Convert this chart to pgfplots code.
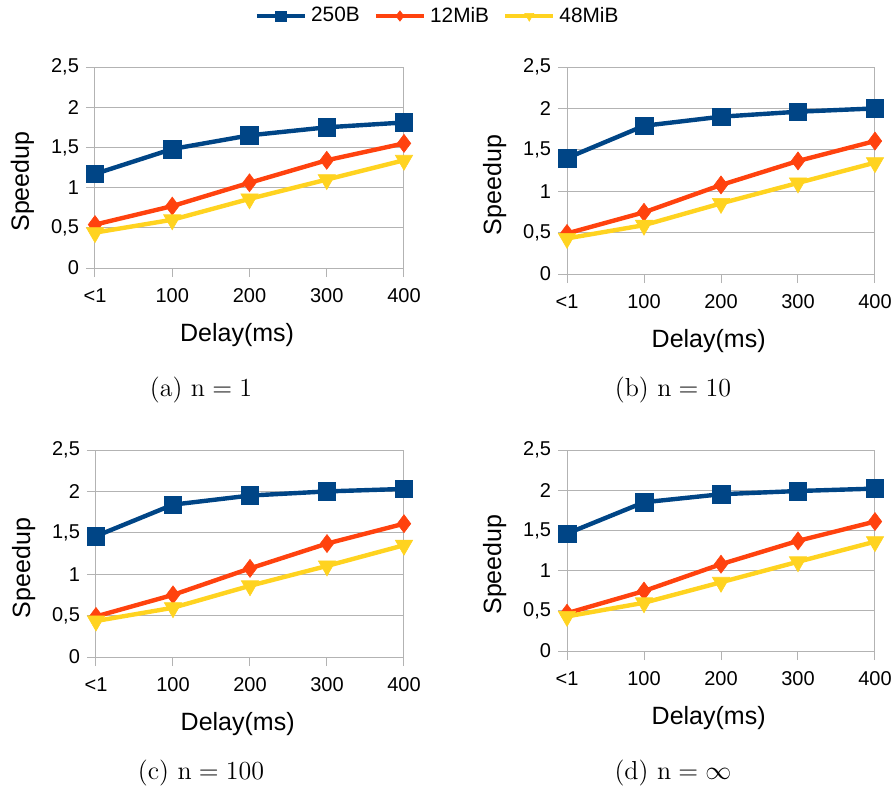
\documentclass[border=0pt]{standalone}
\usepackage{fix-cm}
\usepackage{fontspec}
\usepackage{pgfplots}
\pgfplotsset{compat=1.18}
\newfontfamily\lsans{Liberation Sans}
\definecolor{c1}{HTML}{004586}
\definecolor{c2}{HTML}{FF420E}
\definecolor{c3}{HTML}{FFD320}
\definecolor{gridgray}{HTML}{B3B3B3}
\pgfplotsset{
  myaxis/.style={
    scale only axis,
    xmin=0, xmax=4, ymin=0, ymax=2.5,
    xtick={0,1,2,3,4}, xticklabels={<1,100,200,300,400},
    ytick={0,0.5,1,1.5,2,2.5}, yticklabels={0,{0,5},1,{1,5},2,{2,5}},
    tick align=outside, tick pos=left, major tick length=4.5pt,
    axis line style={draw=gridgray, line width=0.5pt},
    tick style={draw=gridgray, line width=0.5pt},
    ymajorgrids, grid style={draw=gridgray, line width=0.5pt},
    ticklabel style={font=\lsans\fontsize{10}{12}\selectfont},
    xticklabel style={yshift=-2.2pt},
    label style={font=\lsans\fontsize{12.5}{15}\selectfont},
    xlabel={Delay(ms)}, ylabel={Speedup},
    xlabel style={at={(axis description cs:0.46,0)}, anchor=base, yshift=-36.5pt},
    ylabel style={at={(axis description cs:-0.214,0.43)}, anchor=base},
    clip=false,
  },
  s1/.style={color=c1, line width=2.2pt, mark=square*, mark size=4.4pt, mark options={line width=0.3pt}},
  s2/.style={color=c2, line width=2.2pt, mark=diamond*, mark size=4.5pt, mark options={line width=0.3pt}},
  s3/.style={color=c3, line width=2.2pt, mark=triangle*, mark size=5pt, mark options={line width=0.3pt, rotate=180}},
}
\begin{document}
\begin{tikzpicture}
\useasboundingbox (0pt,0pt) rectangle (448pt,-393.5pt);
% (a)
\begin{axis}[myaxis, at={(47.5pt,-134pt)}, anchor=south west, width=154.5pt, height=100.5pt,
  legend columns=3,
  legend style={at={(axis description cs:1.112,1.2537)}, anchor=center, draw=none, fill=none,
    font=\lsans\fontsize{10.4}{12}\selectfont,
    /tikz/every even column/.append style={column sep=5pt}},
  legend image code/.code={\draw[#1, mark repeat=2, mark phase=2] plot coordinates {(0pt,0pt) (12pt,0pt) (24pt,0pt)};},
  legend image post style={mark size=2.6pt}]
\addplot[s1] coordinates {(0,1.17) (1,1.48) (2,1.65) (3,1.75) (4,1.81)};
\addplot[s2] coordinates {(0,0.54) (1,0.77) (2,1.06) (3,1.34) (4,1.55)};
\addplot[s3] coordinates {(0,0.44) (1,0.60) (2,0.86) (3,1.10) (4,1.34)};
\legend{250B,12MiB,48MiB}
\end{axis}
% (b)
\begin{axis}[myaxis, at={(283.5pt,-137pt)}, anchor=south west, width=154pt, height=103.5pt]
\addplot[s1] coordinates {(0,1.40) (1,1.79) (2,1.90) (3,1.96) (4,2.00)};
\addplot[s2] coordinates {(0,0.49) (1,0.745) (2,1.075) (3,1.365) (4,1.606)};
\addplot[s3] coordinates {(0,0.43) (1,0.59) (2,0.853) (3,1.10) (4,1.345)};
\end{axis}
% (c)
\begin{axis}[myaxis, at={(48pt,-328.5pt)}, anchor=south west, width=154pt, height=103.5pt]
\addplot[s1] coordinates {(0,1.46) (1,1.84) (2,1.95) (3,2.00) (4,2.03)};
\addplot[s2] coordinates {(0,0.49) (1,0.75) (2,1.07) (3,1.37) (4,1.61)};
\addplot[s3] coordinates {(0,0.435) (1,0.595) (2,0.86) (3,1.10) (4,1.35)};
\end{axis}
% (d)
\begin{axis}[myaxis, at={(283.5pt,-325.5pt)}, anchor=south west, width=154pt, height=100.5pt]
\addplot[s1] coordinates {(0,1.46) (1,1.85) (2,1.95) (3,1.99) (4,2.02)};
\addplot[s2] coordinates {(0,0.47) (1,0.746) (2,1.08) (3,1.37) (4,1.61)};
\addplot[s3] coordinates {(0,0.43) (1,0.60) (2,0.855) (3,1.11) (4,1.36)};
\end{axis}
\node[anchor=base, font=\fontsize{13}{15}\selectfont] at (100.5pt,-198.25pt) {(a) $\mathrm{n}=1$};
\node[anchor=base, font=\fontsize{13}{15}\selectfont] at (336.5pt,-198.25pt) {(b) $\mathrm{n}=10$};
\node[anchor=base, font=\fontsize{13}{15}\selectfont] at (100.5pt,-389.5pt) {(c) $\mathrm{n}=100$};
\node[anchor=base, font=\fontsize{13}{15}\selectfont] at (336.5pt,-389.5pt) {(d) $\mathrm{n}=\infty$};
\end{tikzpicture}
\end{document}
